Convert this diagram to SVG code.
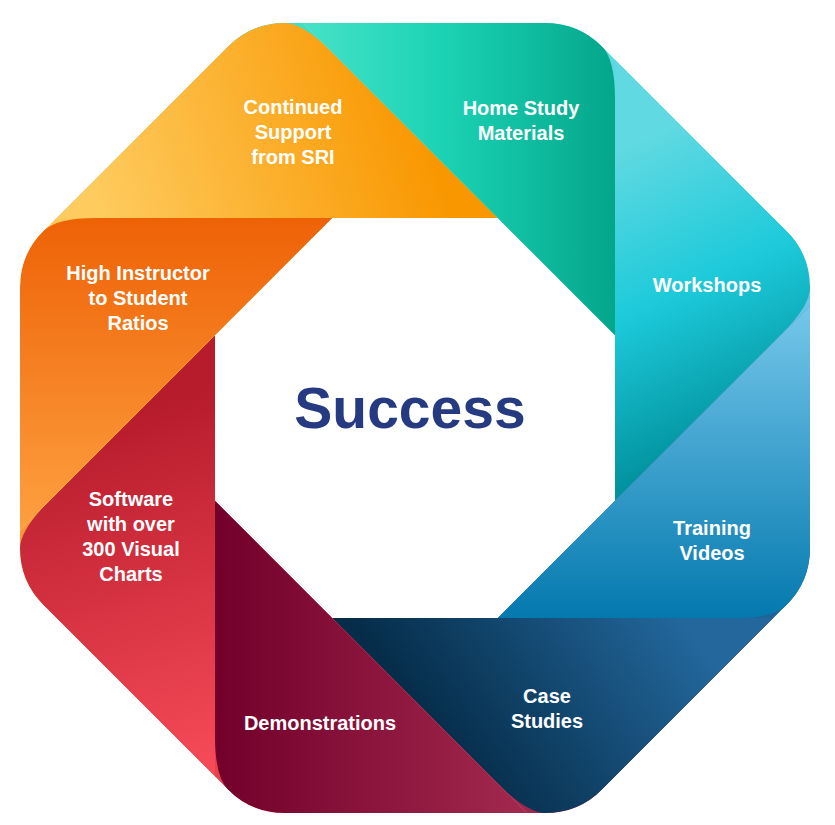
<svg xmlns="http://www.w3.org/2000/svg" width="835" height="825" viewBox="0 0 835 825">
<defs>
<style>
.lbl{font-family:"Liberation Sans",Arial,sans-serif;font-weight:bold;font-size:20px;fill:#ffffff;text-anchor:middle}
.title{font-family:"Liberation Sans",Arial,sans-serif;font-weight:bold;font-size:57px;fill:#263A82;text-anchor:middle}
</style>
<clipPath id="ring">
<path d="M284.4,23 L545.6,23 Q578.6,23 601.9,46.3 L786.7,231.1 Q810,254.4 810,287.4 L810,548.6 Q810,581.6 786.7,604.9 L601.9,789.7 Q578.6,813 545.6,813 L284.4,813 Q251.4,813 228.1,789.7 L43.3,604.9 Q20,581.6 20,548.6 L20,287.4 Q20,254.4 43.3,231.1 L228.1,46.3 Q251.4,23 284.4,23 Z"/>
</clipPath>
<linearGradient id="g1" gradientUnits="userSpaceOnUse" x1="100" y1="210" x2="420" y2="110"><stop offset="0" stop-color="#FECB5E"/><stop offset="1" stop-color="#F99700"/></linearGradient>
<linearGradient id="g2" gradientUnits="userSpaceOnUse" x1="300" y1="0" x2="615" y2="0"><stop offset="0" stop-color="#48E2C8"/><stop offset="0.45" stop-color="#1BD3B4"/><stop offset="1" stop-color="#04A68A"/></linearGradient>
<linearGradient id="g3" gradientUnits="userSpaceOnUse" x1="640" y1="140" x2="770" y2="420"><stop offset="0" stop-color="#60D9E2"/><stop offset="0.5" stop-color="#1DCADA"/><stop offset="1" stop-color="#02929F"/></linearGradient>
<linearGradient id="g4" gradientUnits="userSpaceOnUse" x1="0" y1="310" x2="0" y2="618"><stop offset="0" stop-color="#74C6EA"/><stop offset="1" stop-color="#0479AE"/></linearGradient>
<linearGradient id="g5" gradientUnits="userSpaceOnUse" x1="470" y1="790" x2="690" y2="630"><stop offset="0" stop-color="#052C48"/><stop offset="1" stop-color="#23679C"/></linearGradient>
<linearGradient id="g6" gradientUnits="userSpaceOnUse" x1="215" y1="0" x2="530" y2="0"><stop offset="0" stop-color="#72002A"/><stop offset="1" stop-color="#A3294F"/></linearGradient>
<linearGradient id="g7" gradientUnits="userSpaceOnUse" x1="100" y1="420" x2="210" y2="790"><stop offset="0" stop-color="#B71C2C"/><stop offset="1" stop-color="#FA4D5A"/></linearGradient>
<linearGradient id="g8" gradientUnits="userSpaceOnUse" x1="0" y1="218" x2="0" y2="530"><stop offset="0" stop-color="#EE6206"/><stop offset="1" stop-color="#FDA040"/></linearGradient>
</defs>
<rect width="835" height="825" fill="#ffffff"/>
<g clip-path="url(#ring)">
<g id="continued-support">
<path d="M56.4,218 L251.4,23 L302.8,23 L497.8,218 Z" fill="#3FDFC3"/>
<path d="M56.4,218 L228.1,46.3 Q251.4,23 284.4,23 Q302.8,23 330.8,51 L497.8,218 Z" fill="url(#g1)"/>
<text class="lbl" x="293" y="114">Continued</text>
<text class="lbl" x="293" y="139">Support</text>
<text class="lbl" x="293" y="164">from SRI</text>
</g>
<g id="home-study">
<path d="M302.8,23 L578.6,23 L615,59.4 L615,335.2 L497.8,218 Z" fill="#5BD8E0"/>
<path d="M302.8,23 L545.6,23 Q578.6,23 601.9,46.3 Q615,59.4 615,99.4 L615,335.2 L497.8,218 Z" fill="url(#g2)"/>
<text class="lbl" x="521" y="115">Home Study</text>
<text class="lbl" x="521" y="140">Materials</text>
</g>
<g id="workshops">
<path d="M615,59.4 L810,254.4 L810,305.8 L615,500.8 L615,335.2 Z" fill="#6EC3E8"/>
<path d="M615,59.4 L786.7,231.1 Q810,254.4 810,287.4 Q810,305.8 781.7,334.1 L615,500.8 L615,335.2 Z" fill="url(#g3)"/>
<text class="lbl" x="707" y="292">Workshops</text>
</g>
<g id="training-videos">
<path d="M810,305.8 L810,581.6 L773.6,618 L497.8,618 L615,500.8 Z" fill="#1F6498"/>
<path d="M810,305.8 L810,548.6 Q810,581.6 786.7,604.9 Q773.6,618 733.6,618 L497.8,618 L615,500.8 Z" fill="url(#g4)"/>
<text class="lbl" x="712" y="535">Training</text>
<text class="lbl" x="712" y="560">Videos</text>
</g>
<g id="case-studies">
<path d="M773.6,618 L578.6,813 L527.2,813 L332.2,618 Z" fill="#9E2650"/>
<path d="M773.6,618 L601.9,789.7 Q578.6,813 545.6,813 Q527.2,813 499.2,785 L332.2,618 Z" fill="url(#g5)"/>
<text class="lbl" x="547" y="703">Case</text>
<text class="lbl" x="547" y="728">Studies</text>
</g>
<g id="demonstrations">
<path d="M527.2,813 L251.4,813 L215,776.6 L215,500.8 L332.2,618 Z" fill="#E9404F"/>
<path d="M527.2,813 L284.4,813 Q251.4,813 228.1,789.7 Q215,776.6 215,736.6 L215,500.8 L332.2,618 Z" fill="url(#g6)"/>
<text class="lbl" x="320" y="730">Demonstrations</text>
</g>
<g id="software">
<path d="M215,776.6 L20,581.6 L20,530.2 L215,335.2 Z" fill="#FA9638"/>
<path d="M215,776.6 L43.3,604.9 Q20,581.6 20,548.6 Q20,530.2 48.3,501.9 L215,335.2 Z" fill="url(#g7)"/>
<text class="lbl" x="131" y="506">Software</text>
<text class="lbl" x="131" y="531">with over</text>
<text class="lbl" x="131" y="556">300 Visual</text>
<text class="lbl" x="131" y="581">Charts</text>
</g>
<g id="high-instructor">
<path d="M20,530.2 L20,254.4 L56.4,218 L332.2,218 L215,335.2 Z" fill="#FDC85A"/>
<path d="M20,530.2 L20,287.4 Q20,254.4 43.3,231.1 Q56.4,218 96.4,218 L332.2,218 L215,335.2 Z" fill="url(#g8)"/>
<text class="lbl" x="138" y="280">High Instructor</text>
<text class="lbl" x="138" y="305">to Student</text>
<text class="lbl" x="138" y="330">Ratios</text>
</g>
</g>
<g id="center">
<text class="title" x="410" y="428">Success</text>
</g>
</svg>
